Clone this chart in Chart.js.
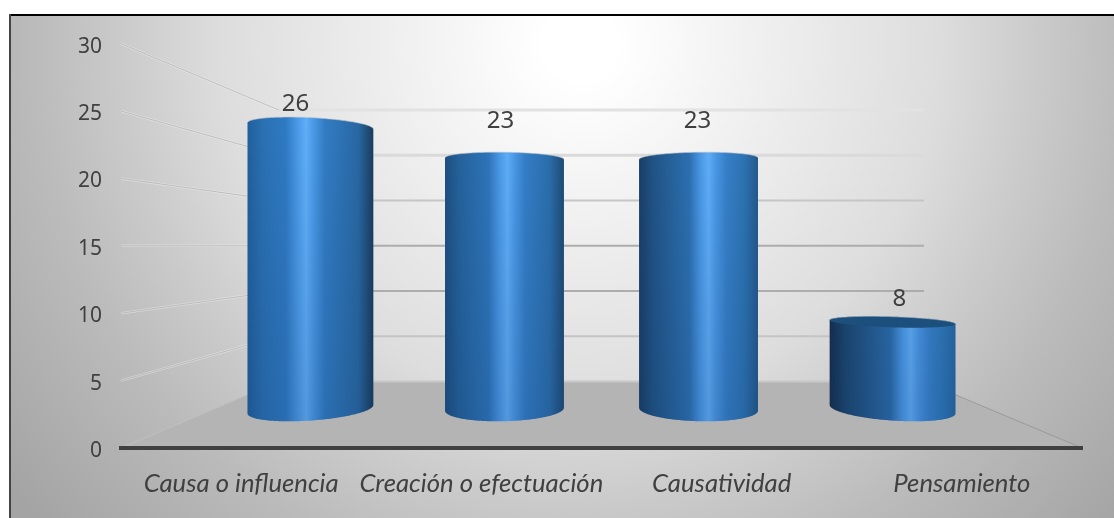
<!DOCTYPE html>
<html>
<head>
<meta charset="utf-8">
<style>
  html, body { margin: 0; padding: 0; background: #fff; }
  canvas { display: block; }
</style>
<script src="https://cdn.jsdelivr.net/npm/chart.js@4"></script>
</head>
<body>
<canvas id="grafico" width="1114" height="518"></canvas>
<script>
const categories = ['Causa o influencia', 'Creación o efectuación', 'Causatividad', 'Pensamiento'];
const values = [26, 23, 23, 8];
const tickStep = 5;
const axisMax = 30;

// nudge of each value label from its cylinder top
const labelLift = [15, 32, 32, 28];
const labelShift = [3, 2, -7, -11];

// 3D look: depth 0 is the front plane (the chart area), depth 1 the back wall
const perspective = 0.49;
const depthCentre = 0.5;
const depthRadius = 0.19;

function project(chart, X, Y, depth) {
    const a = chart.chartArea;
    const vx = (a.left + a.right) / 2;
    const vy = (a.top + a.bottom) / 2;
    const s = 1 / (1 + perspective * depth);
    return { x: vx + (X - vx) * s, y: vy + (Y - vy) * s };
}

function mix(c1, c2, t) {
    const r = c1.map((v, i) => Math.round(v + (c2[i] - v) * t));
    return 'rgb(' + r.join(',') + ')';
}

const wallPlugin = {
    id: 'wall',
    beforeDraw(chart) {
        const ctx = chart.ctx;
        const a = chart.chartArea;
        const y = chart.scales.y;

        // background
        const bg = ctx.createRadialGradient(580, 45, 0, 580, 45, 720);
        bg.addColorStop(0.05, '#ffffff');
        bg.addColorStop(0.22, '#f2f2f2');
        bg.addColorStop(0.5, '#dddddd');
        bg.addColorStop(0.64, '#cacaca');
        bg.addColorStop(0.76, '#bbbbbb');
        bg.addColorStop(1, '#a4a4a4');
        ctx.fillStyle = bg;
        ctx.fillRect(10, 15, 1104, 503);
        ctx.fillStyle = '#000';
        ctx.fillRect(9, 14, 1105, 2);
        ctx.fillStyle = '#444';
        ctx.fillRect(9, 14, 2, 504);

        // floor
        const y0 = y.getPixelForValue(0);
        const fl = project(chart, a.left, y0, 1);
        const fr = project(chart, a.right, y0, 1);
        ctx.beginPath();
        ctx.moveTo(a.left, y0);
        ctx.lineTo(fl.x, fl.y);
        ctx.lineTo(fr.x, fr.y);
        ctx.lineTo(a.right, y0);
        ctx.closePath();
        ctx.fillStyle = '#b4b4b4';
        ctx.fill();

        ctx.lineWidth = 1;
        ctx.strokeStyle = '#9a9a9a';
        ctx.beginPath();
        ctx.moveTo(fr.x, fr.y);
        ctx.lineTo(a.right, y0);
        ctx.stroke();

        // gridlines: left wall and back wall
        const backColors = { 30: '#e2e2e2', 25: '#dadada', 20: '#c6c6c6', 15: '#adadad', 10: '#adadad', 5: '#c4c4c4', 0: '#c8c8c8' };
        y.ticks.forEach(t => {
            const Y = y.getPixelForValue(t.value);
            const l = project(chart, a.left, Y, 1);
            const r = project(chart, a.right, Y, 1);

            ctx.lineWidth = t.value === 0 ? 1 : 2.5;
            ctx.strokeStyle = 'rgba(240,240,240,0.5)';
            ctx.beginPath();
            ctx.moveTo(a.left, Y);
            ctx.lineTo(l.x, l.y);
            ctx.stroke();
            ctx.lineWidth = 0.8;
            ctx.strokeStyle = '#b2b2b2';
            ctx.beginPath();
            ctx.moveTo(a.left, Y);
            ctx.lineTo(l.x, l.y);
            ctx.stroke();

            ctx.lineWidth = t.value >= 25 ? 3 : 2;
            ctx.strokeStyle = backColors[t.value];
            ctx.beginPath();
            ctx.moveTo(l.x, l.y);
            ctx.lineTo(r.x, r.y);
            ctx.stroke();
        });
    }
};

const cylinderPlugin = {
    id: 'cylinder',
    afterDatasetsDraw(chart) {
        const ctx = chart.ctx;
        const meta = chart.getDatasetMeta(0);
        const a = chart.chartArea;
        const vx = (a.left + a.right) / 2;
        const vy = (a.top + a.bottom) / 2;
        const N = 240;
        const tallest = chart.scales.y.getPixelForValue(Math.max(...values));

        meta.data.forEach((bar, i) => {
            const r = bar.width / 2;
            const ring = [];
            for (let k = 0; k < N; k++) {
                const th = (k / N) * Math.PI * 2;
                ring.push({ X: bar.x + r * Math.cos(th), d: depthCentre + depthRadius * Math.sin(th) });
            }
            const at = (p, Y) => project(chart, p.X, Y, p.d);

            let iMin = 0, iMax = 0;
            ring.forEach((p, k) => {
                if (at(p, bar.y).x < at(ring[iMin], bar.y).x) iMin = k;
                if (at(p, bar.y).x > at(ring[iMax], bar.y).x) iMax = k;
            });
            const walk = (from, to) => {
                const out = [];
                for (let k = from; ; k = (k + 1) % N) {
                    out.push(ring[k]);
                    if (k === to) break;
                }
                return out;
            };
            const front = walk(iMin, iMax);
            const back = walk(iMax, iMin);
            const topVisible = bar.y > vy;

            const xL = at(ring[iMin], bar.y).x;
            const xR = at(ring[iMax], bar.y).x;
            const off = ((xL + xR) / 2 - vx) / 292;   // -1 first bar, +1 last bar

            // horizontal shading, the highlight moves with the bar
            const h = 0.555 + off * 0.09;
            const u = (off + 1) / 2;
            const g = ctx.createLinearGradient(xL, 0, xR, 0);
            g.addColorStop(0, mix([33, 95, 155], [22, 46, 75], u));
            g.addColorStop(0.12, mix([42, 112, 178], [28, 70, 110], u));
            g.addColorStop(h - 0.16, mix([47, 122, 195], [44, 108, 170], u));
            g.addColorStop(h - 0.07, '#4a98e6');
            g.addColorStop(h, '#60aef8');
            g.addColorStop(h + 0.06, '#4a98e6');
            g.addColorStop(h + 0.15, mix([50, 124, 196], [56, 130, 204], u));
            g.addColorStop(0.88, mix([40, 104, 162], [48, 122, 188], u));
            g.addColorStop(1, mix([27, 60, 92], [40, 105, 165], u));

            ctx.beginPath();
            front.forEach((p, k) => {
                const q = at(p, bar.base);
                if (k === 0) ctx.moveTo(q.x, q.y); else ctx.lineTo(q.x, q.y);
            });
            const upper = topVisible ? back : front.slice().reverse();
            upper.forEach(p => {
                const q = at(p, bar.y);
                ctx.lineTo(q.x, q.y);
            });
            ctx.closePath();
            ctx.fillStyle = g;
            ctx.fill();

            // a bit darker towards the floor, same for all bars
            const shade = ctx.createLinearGradient(0, at(ring[iMin], tallest).y, 0, at(ring[iMin], bar.base).y);
            shade.addColorStop(0, 'rgba(10,40,90,0)');
            shade.addColorStop(1, 'rgba(10,40,90,0.16)');
            ctx.fillStyle = shade;
            ctx.fill();

            if (topVisible) {
                ctx.beginPath();
                ring.forEach((p, k) => {
                    const q = at(p, bar.y);
                    if (k === 0) ctx.moveTo(q.x, q.y); else ctx.lineTo(q.x, q.y);
                });
                ctx.closePath();
                ctx.fillStyle = '#1d4f7d';
                ctx.fill();
            }

            // thin light rim on the upper edge
            ctx.beginPath();
            upper.forEach((p, k) => {
                const q = at(p, bar.y);
                if (k === 0) ctx.moveTo(q.x, q.y); else ctx.lineTo(q.x, q.y);
            });
            ctx.lineWidth = 1;
            ctx.strokeStyle = 'rgba(190,195,200,0.6)';
            ctx.stroke();

            // value label
            const c = project(chart, bar.x, bar.y, 0.34);
            ctx.font = '24px "Noto Sans"';
            ctx.fillStyle = '#404040';
            ctx.textAlign = 'center';
            ctx.textBaseline = 'middle';
            ctx.fillText(String(values[i]), c.x + labelShift[i], c.y - labelLift[i]);
        });
    }
};

const ctx = document.getElementById('grafico').getContext('2d');
const grafico = new Chart(ctx, {
    type: 'bar',
    data: {
        labels: categories,
        datasets: [{
            data: values,
            backgroundColor: 'rgba(0,0,0,0)',
            barPercentage: 0.61,
            categoryPercentage: 1
        }]
    },
    options: {
        responsive: false,
        animation: false,
        layout: { padding: { left: 0, right: 32, top: 43.6, bottom: 0 } },
        plugins: { legend: { display: false }, tooltip: { enabled: false } },
        scales: {
            x: {
                offset: true,
                afterFit(scale) { scale.height = 70; },
                grid: { display: false, drawTicks: false },
                border: { display: true, color: '#404040', width: 4 },
                ticks: {
                    padding: 20,
                    color: '#404040',
                    maxRotation: 0,
                    autoSkip: false,
                    font: { family: 'Lato', size: 25.7, style: 'italic' }
                }
            },
            y: {
                min: 0,
                max: axisMax,
                afterFit(scale) { scale.width = 121; },
                grid: { display: false, drawTicks: false },
                border: { display: false },
                ticks: {
                    stepSize: tickStep,
                    padding: 19,
                    labelOffset: 3,
                    color: '#404040',
                    font: { family: 'Noto Sans', size: 21 }
                }
            }
        }
    },
    plugins: [wallPlugin, cylinderPlugin]
});
</script>
</body>
</html>
